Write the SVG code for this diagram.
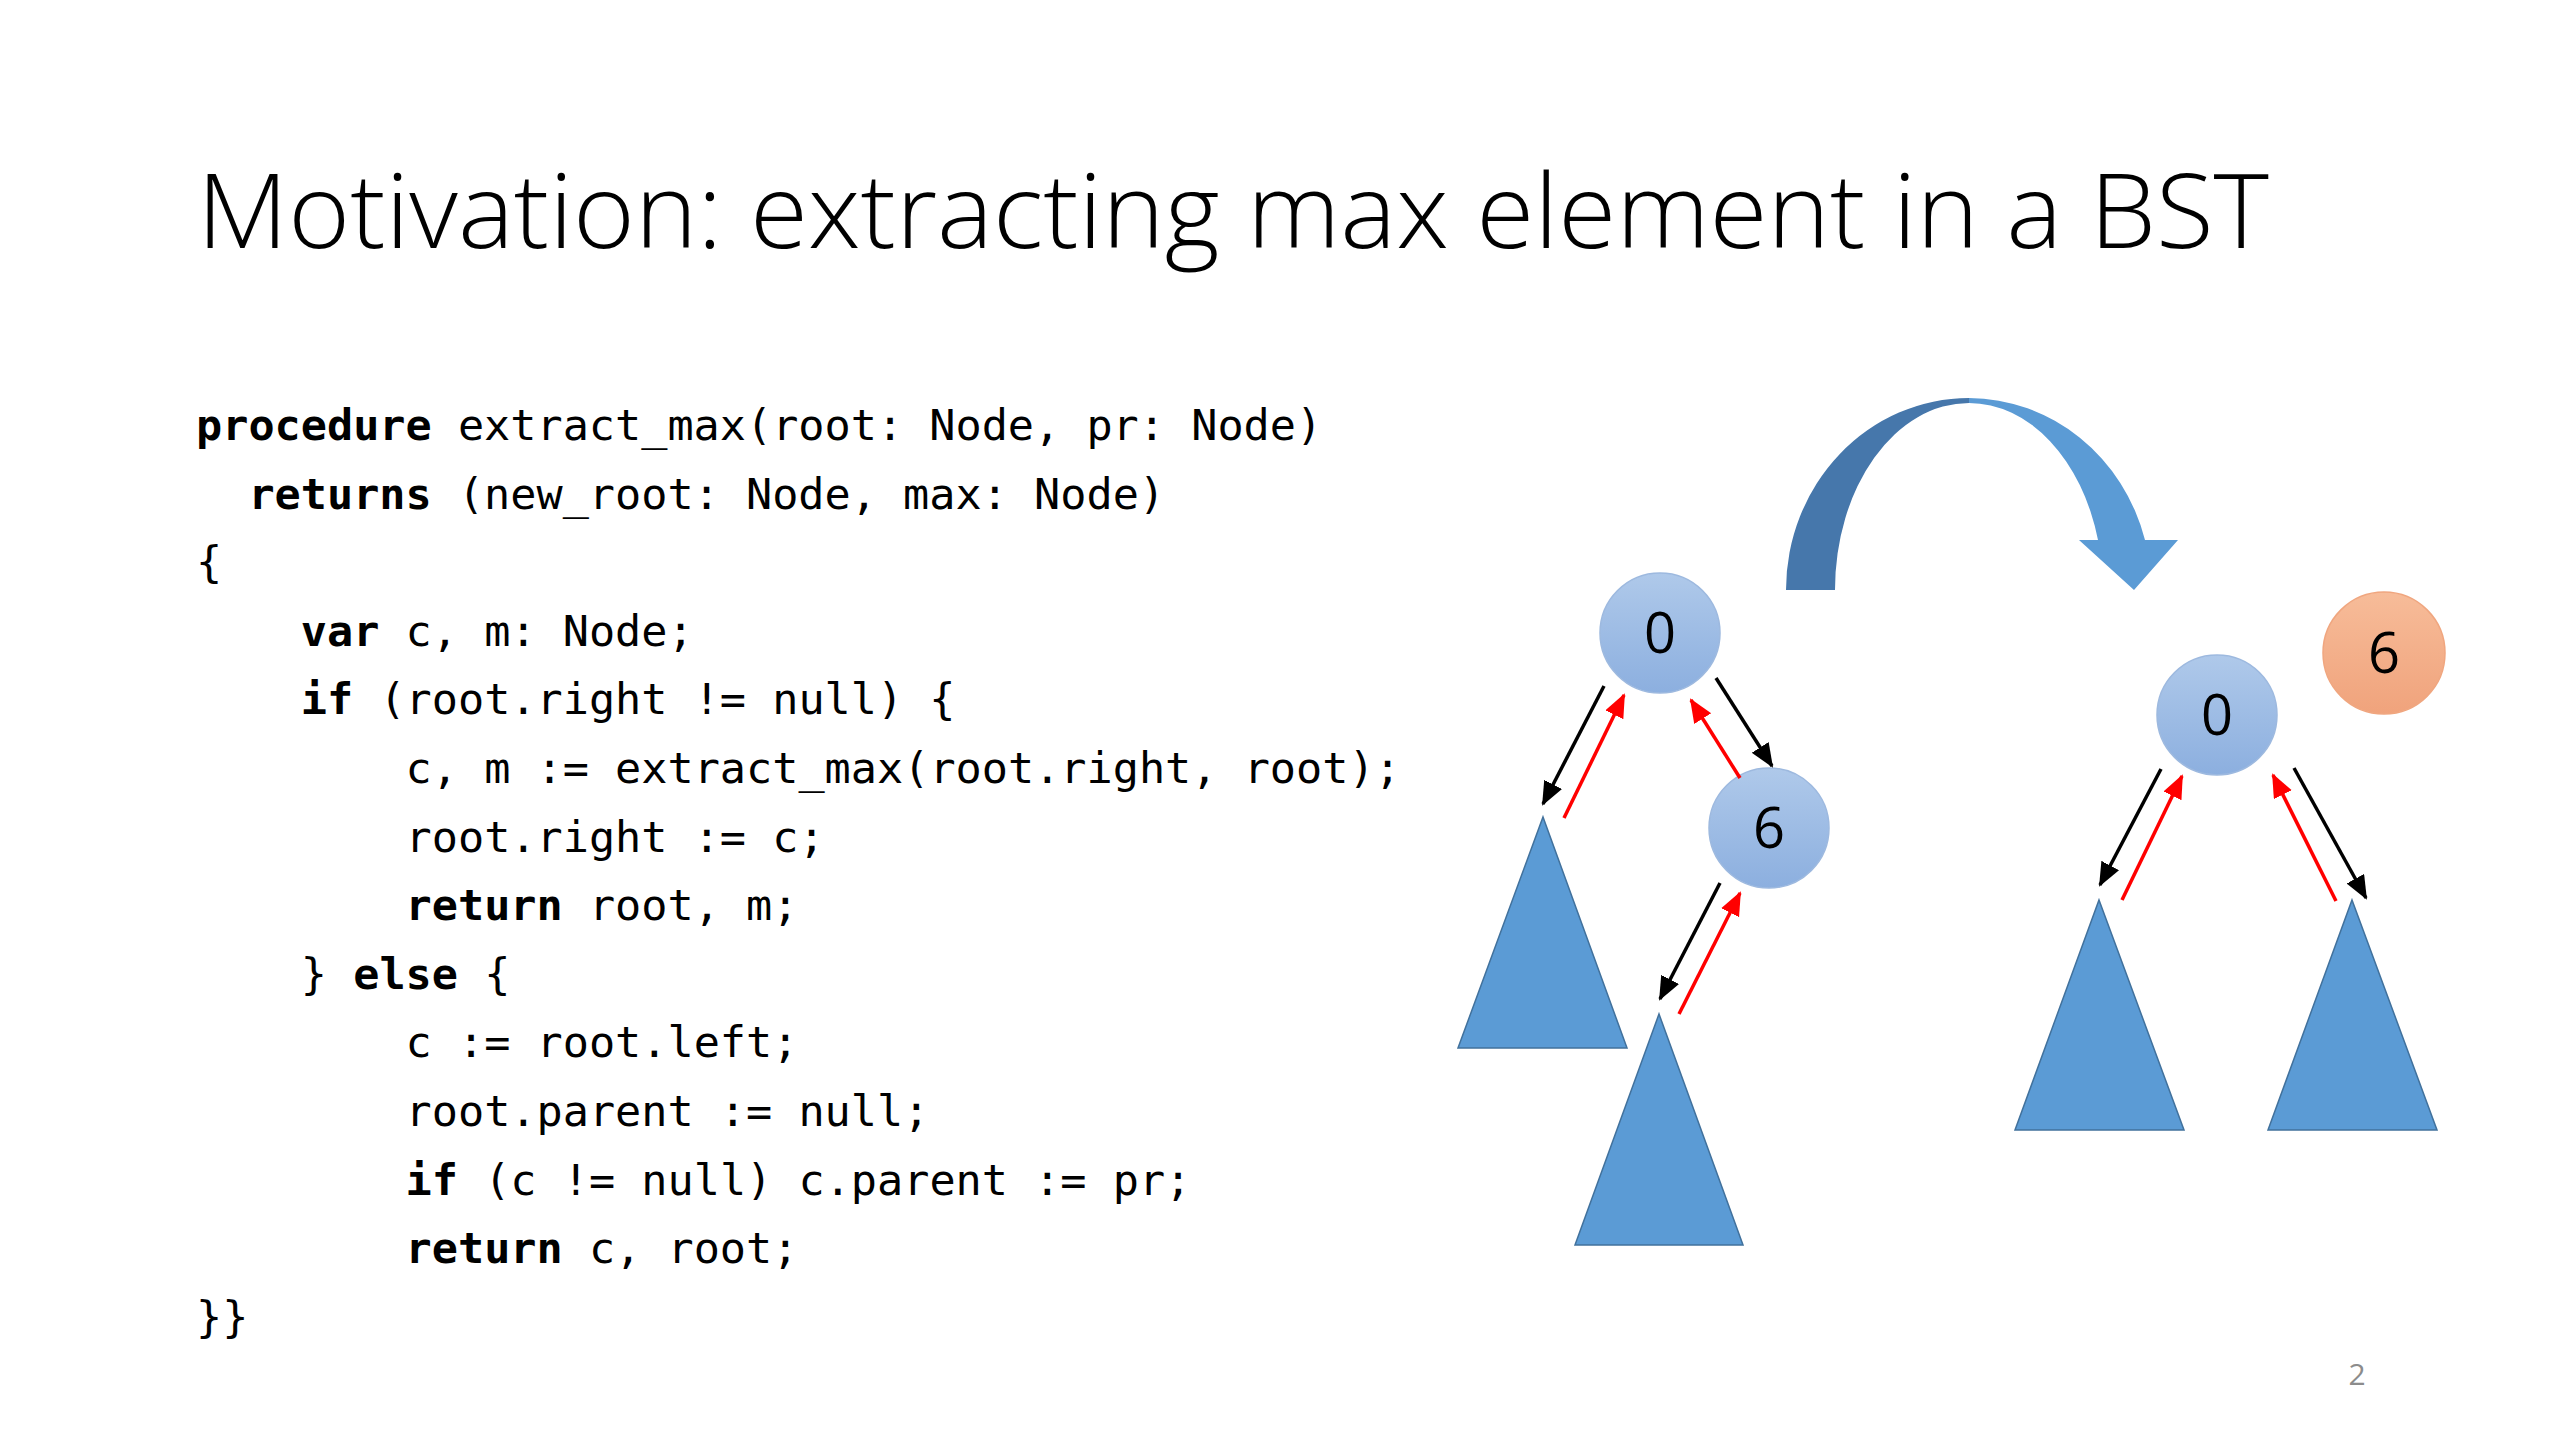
<svg xmlns="http://www.w3.org/2000/svg" width="2560" height="1440" viewBox="0 0 2560 1440">
<style>
.title{font-family:"Open Sans","Liberation Sans",sans-serif;font-weight:300;font-size:104px;fill:#000}
.code{font-family:"DejaVu Sans Mono","Liberation Mono",monospace;font-size:43.5px;fill:#000}
.kw{font-weight:bold}
.num{font-family:"Open Sans","Liberation Sans",sans-serif;font-size:56px;fill:#000;text-anchor:middle}
.tri{fill:#5B9BD5;stroke:#41719C;stroke-width:1.5}
.bn{fill:url(#gBlue);stroke:#9DB9DF;stroke-width:1.5}
.on{fill:url(#gOrange);stroke:#F0A67F;stroke-width:1.5}
.blk{stroke:#000;stroke-width:3.5;fill:none;marker-end:url(#hB)}
.red{stroke:#FF0000;stroke-width:3.5;fill:none;marker-end:url(#hR)}
.pg{font-family:"Open Sans","Liberation Sans",sans-serif;font-size:30px;fill:#8C8C8C;text-anchor:middle}
</style>
<defs>
<linearGradient id="gBlue" x1="0" y1="0" x2="0" y2="1">
<stop offset="0" stop-color="#AFC9EA"/><stop offset="1" stop-color="#8CAFDF"/>
</linearGradient>
<linearGradient id="gOrange" x1="0" y1="0" x2="0" y2="1">
<stop offset="0" stop-color="#F7BC99"/><stop offset="1" stop-color="#F0A37C"/>
</linearGradient>
<marker id="hB" markerUnits="userSpaceOnUse" markerWidth="26" markerHeight="22" refX="22" refY="10" orient="auto">
<path d="M0,0 L24,10 L0,20 Z" fill="#000"/>
</marker>
<marker id="hR" markerUnits="userSpaceOnUse" markerWidth="26" markerHeight="22" refX="22" refY="10" orient="auto">
<path d="M0,0 L24,10 L0,20 Z" fill="#FF0000"/>
</marker>
</defs>
<rect width="2560" height="1440" fill="#FFFFFF"/>

<text class="title" x="197" y="248" textLength="2072" lengthAdjust="spacingAndGlyphs">Motivation: extracting max element in a BST</text>

<g id="code" class="code">
<text x="196" y="440"><tspan class="kw">procedure</tspan> extract_max(root: Node, pr: Node)</text>
<text x="248.4" y="508.6"><tspan class="kw">returns</tspan> (new_root: Node, max: Node)</text>
<text x="196" y="577.2">{</text>
<text x="300.8" y="645.8"><tspan class="kw">var</tspan> c, m: Node;</text>
<text x="300.8" y="714.4"><tspan class="kw">if</tspan> (root.right != null) {</text>
<text x="405.6" y="783">c, m := extract_max(root.right, root);</text>
<text x="405.6" y="851.6">root.right := c;</text>
<text x="405.6" y="920.2"><tspan class="kw">return</tspan> root, m;</text>
<text x="300.8" y="988.8">} <tspan class="kw">else</tspan> {</text>
<text x="405.6" y="1057.4">c := root.left;</text>
<text x="405.6" y="1126">root.parent := null;</text>
<text x="405.6" y="1194.6"><tspan class="kw">if</tspan> (c != null) c.parent := pr;</text>
<text x="405.6" y="1263.2"><tspan class="kw">return</tspan> c, root;</text>
<text x="196" y="1331.8">}}</text>
</g>

<g id="curved-arrow">
<path d="M1786,590 A183,192 0 0 1 1969,398 L1969,403 A134,187 0 0 0 1835,590 Z" fill="#4677AB"/>
<path d="M1969,398 A183,192 0 0 1 2145,540 L2178,540 L2134,590 L2079,540 L2098,540 A134,187 0 0 0 1969,403 Z" fill="#5B9BD5"/>
</g>

<g id="left-subtree-a"><polygon class="tri" points="1543,817 1627,1048 1458,1048"/></g>
<g id="left-subtree-b"><polygon class="tri" points="1659,1014 1743,1245 1575,1245"/></g>
<g id="right-subtree-a"><polygon class="tri" points="2099,900 2184,1130 2015,1130"/></g>
<g id="right-subtree-b"><polygon class="tri" points="2352,900 2437,1130 2268,1130"/></g>

<g id="node-left-0"><circle class="bn" cx="1660" cy="633" r="60"/><text class="num" x="1660" y="653">0</text></g>
<g id="node-left-6"><circle class="bn" cx="1769" cy="828" r="60"/><text class="num" x="1769" y="848">6</text></g>
<g id="node-right-0"><circle class="bn" cx="2217" cy="715" r="60"/><text class="num" x="2217" y="735">0</text></g>
<g id="node-right-6"><circle class="on" cx="2384" cy="653" r="61"/><text class="num" x="2384" y="673">6</text></g>

<g id="connectors">
<line class="blk" x1="1604" y1="686" x2="1543" y2="804"/>
<line class="red" x1="1564" y1="818" x2="1624" y2="695"/>
<line class="blk" x1="1716" y1="678" x2="1772" y2="766"/>
<line class="red" x1="1740" y1="778" x2="1691" y2="700"/>
<line class="blk" x1="1720" y1="883" x2="1660" y2="999"/>
<line class="red" x1="1679" y1="1014" x2="1740" y2="893"/>
<line class="blk" x1="2161" y1="769" x2="2100" y2="885"/>
<line class="red" x1="2122" y1="900" x2="2182" y2="776"/>
<line class="blk" x1="2294" y1="768" x2="2366" y2="898"/>
<line class="red" x1="2336" y1="901" x2="2273" y2="775"/>
</g>

<text class="pg" x="2357" y="1385">2</text>
</svg>
